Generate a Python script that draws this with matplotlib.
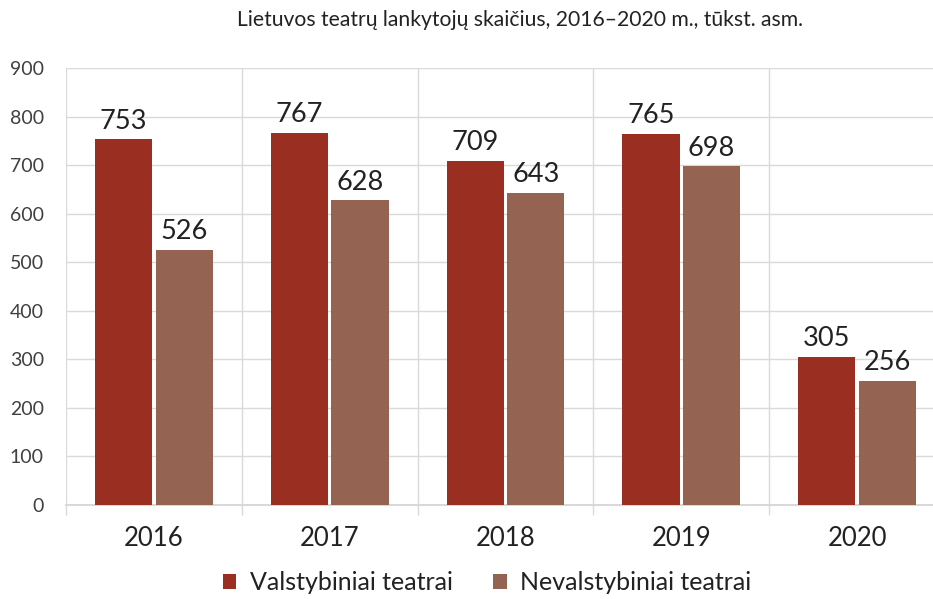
import numpy as np
import matplotlib
matplotlib.use("Agg")
import matplotlib.pyplot as plt
from matplotlib.ticker import MultipleLocator, FixedLocator

RED, BROWN, GRID, TXT = "#992E21", "#956352", "#D9D9D9", "#222222"

years = ["2016", "2017", "2018", "2019", "2020"]
valstybiniai = [753, 767, 709, 765, 305]
nevalstybiniai = [526, 628, 643, 698, 256]
series_labels = ["Valstybiniai teatrai", "Nevalstybiniai teatrai"]
title = "Lietuvos teatrų lankytojų skaičius, 2016–2020 m., tūkst. asm."

plt.rcParams["font.family"] = ["Lato", "DejaVu Sans"]

fig = plt.figure(figsize=(9.33, 5.99), dpi=100)
ax = fig.add_axes([66/933, 94/599, 879/933, 437/599])

x = np.arange(len(years))
w = 0.325
off = 0.172
b1 = ax.bar(x - off, valstybiniai, w, color=RED, label=series_labels[0], zorder=3)
b2 = ax.bar(x + off, nevalstybiniai, w, color=BROWN, label=series_labels[1], zorder=3)

for bars, vals in ((b1, valstybiniai), (b2, nevalstybiniai)):
    for bar, v in zip(bars, vals):
        ax.annotate(str(v), (bar.get_x() + bar.get_width()/2, v), xytext=(0, 4),
                    textcoords="offset points", ha="center", va="bottom",
                    fontsize=19.5, color=TXT)

ax.set_xlim(-0.5, 4.5)
ax.set_ylim(0, 900)
ax.yaxis.set_major_locator(MultipleLocator(100))
ax.set_xticks(x)
ax.set_xticklabels(years)
ax.xaxis.set_minor_locator(FixedLocator(np.arange(-0.5, 5, 1)))
ax.tick_params(axis="x", which="major", length=0, pad=15, labelsize=18.5, labelcolor=TXT)
ax.tick_params(axis="x", which="minor", length=7, color=GRID, width=1)
ax.tick_params(axis="y", length=0, pad=16, labelsize=14, labelcolor="#404040")
ax.grid(axis="y", which="major", color=GRID, lw=1, zorder=0)
ax.grid(axis="x", which="minor", color=GRID, lw=1, zorder=0)
for s in ["top", "right", "left"]:
    ax.spines[s].set_visible(False)
ax.spines["bottom"].set_color(GRID)
ax.spines["bottom"].set_linewidth(1.5)

fig.text(0.557, 0.967, title, ha="center", va="center", fontsize=15.2, color=TXT)
fig.legend(loc="center", bbox_to_anchor=(0.522, 0.027), ncol=2, frameon=False,
           fontsize=18, handlelength=0.55, handleheight=0.55, columnspacing=1.6,
           handletextpad=0.55, labelcolor=TXT)

fig.savefig("out.png", dpi=100, facecolor="white")
